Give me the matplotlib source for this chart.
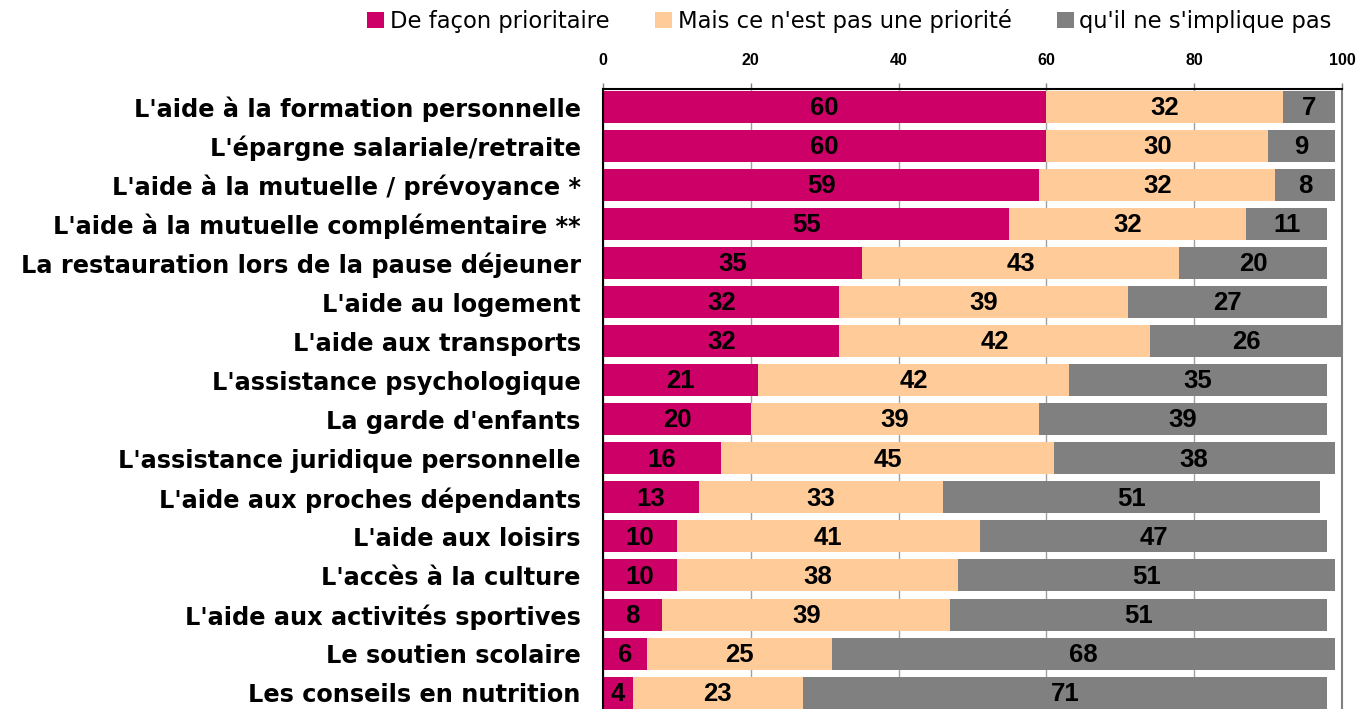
import numpy as np
import matplotlib.pyplot as plt

# ---------- Data ----------
categories = [
    "L'aide à la formation personnelle",
    "L'épargne salariale/retraite",
    "L'aide à la mutuelle / prévoyance *",
    "L'aide à la mutuelle complémentaire **",
    "La restauration lors de la pause déjeuner",
    "L'aide au logement",
    "L'aide aux transports",
    "L'assistance psychologique",
    "La garde d'enfants",
    "L'assistance juridique personnelle",
    "L'aide aux proches dépendants",
    "L'aide aux loisirs",
    "L'accès à la culture",
    "L'aide aux activités sportives",
    "Le soutien scolaire",
    "Les conseils en nutrition",
]
prioritaire = [60, 60, 59, 55, 35, 32, 32, 21, 20, 16, 13, 10, 10, 8, 6, 4]
pas_priorite = [32, 30, 32, 32, 43, 39, 42, 42, 39, 45, 33, 41, 38, 39, 25, 23]
pas_implique = [7, 9, 8, 11, 20, 27, 26, 35, 39, 38, 51, 47, 51, 51, 68, 71]
series_names = ["De façon prioritaire", "Mais ce n'est pas une priorité",
                "qu'il ne s'implique pas"]
x_ticks = [0, 20, 40, 60, 80, 100]

colors = ['#CC0066', '#FFCC99', '#808080']

plt.rcParams['font.family'] = ['Liberation Sans', 'DejaVu Sans']

# ---------- Figure ----------
W, H = 1358, 709
fig = plt.figure(figsize=(W / 100, H / 100), dpi=100)
ax = fig.add_axes([603 / W, 0, (1342 - 603) / W, (709 - 89) / H])

y = np.arange(len(categories))
left = np.zeros(len(categories))
for vals, col, name in zip([prioritaire, pas_priorite, pas_implique], colors, series_names):
    vals = np.array(vals, dtype=float)
    ax.barh(y, vals, left=left, height=0.82, color=col, label=name, zorder=2)
    for yi, l, v in zip(y, left, vals):
        ax.text(l + v / 2, yi + 0.03, f"{int(v)}", ha='center', va='center',
                fontsize=18.5, fontweight='bold', zorder=3)
    left += vals

ax.set_xlim(0, 100)
ax.set_ylim(15.42, -0.46)
ax.set_yticks(y)
ax.set_yticklabels(categories, fontsize=17.3, fontweight='bold',
                   family=['DejaVu Sans'])
ax.tick_params(axis='y', length=0, pad=16)

ax.xaxis.tick_top()
ax.set_xticks(x_ticks)
ax.set_xticklabels([str(t) for t in x_ticks], fontsize=11.5, fontweight='bold')
ax.tick_params(axis='x', length=4.5, width=1, color='#808080', pad=10.5)

ax.grid(axis='x', color='#A0A0A0', linewidth=1, zorder=0)
ax.set_axisbelow(True)

ax.spines['bottom'].set_visible(False)
ax.spines['top'].set_color('black')
ax.spines['top'].set_linewidth(1.5)
ax.spines['left'].set_color('black')
ax.spines['left'].set_linewidth(1.5)
ax.spines['right'].set_color('#808080')
ax.spines['right'].set_linewidth(1.5)

leg = fig.legend(loc='center right', bbox_to_anchor=(1343 / W, 1 - 21 / H), ncol=3,
                 frameon=False, handlelength=0.75, handleheight=0.75,
                 handletextpad=0.25, columnspacing=2.0, borderpad=0,
                 prop={'family': ['DejaVu Sans'], 'size': 16.3})

fig.savefig('out.png', dpi=100)
